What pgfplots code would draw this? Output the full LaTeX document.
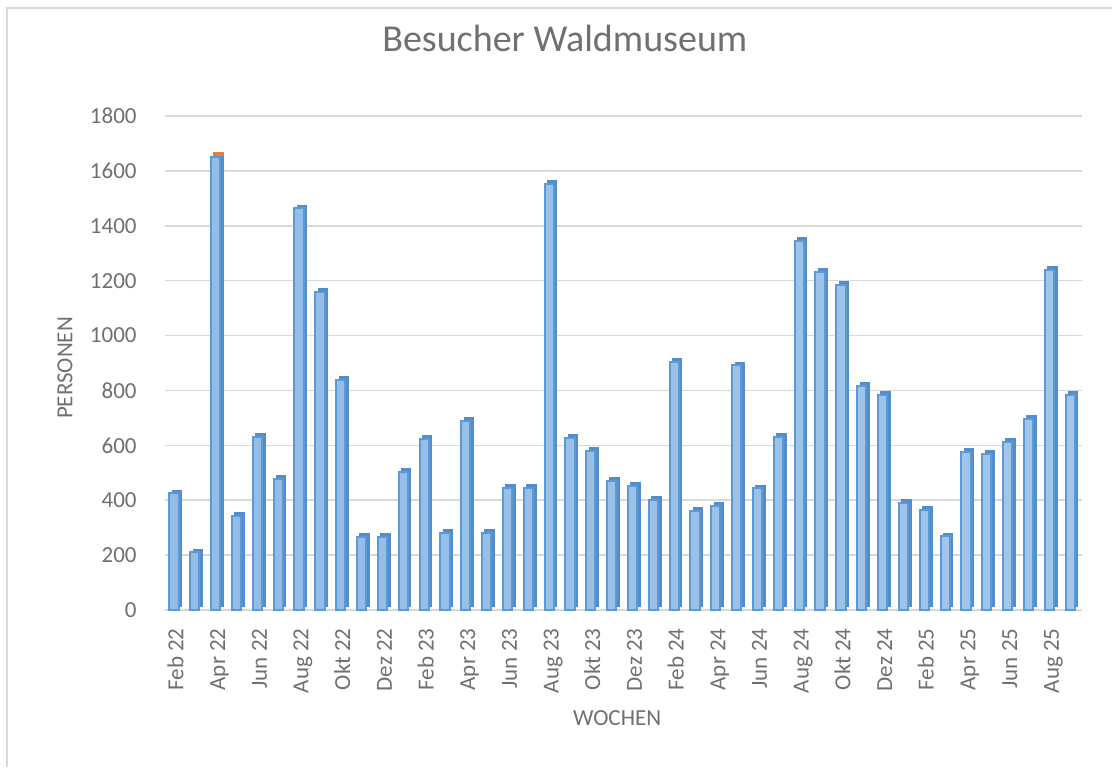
\documentclass[border=0pt]{standalone}
\usepackage{pgfplots}
\pgfplotsset{compat=1.18}
\usepackage{pgfplotstable}
\usepackage{fontspec}
\setmainfont{Carlito}
\definecolor{txt}{RGB}{112,112,112}
\definecolor{grid}{RGB}{217,217,217}
\definecolor{frontfill}{RGB}{163,198,234}
\definecolor{frontlight}{RGB}{184,212,240}
\definecolor{frontdark}{RGB}{146,187,230}
\definecolor{frontedge}{RGB}{91,155,213}
\definecolor{sidefill}{RGB}{84,141,203}
\definecolor{orangecap}{RGB}{237,125,49}
\pgfplotstableread{
x y
0 425
1 210
2 1652
3 342
4 630
5 478
6 1463
7 1159
8 837
9 267
10 267
11 502
12 623
13 280
14 689
15 282
16 446
17 446
18 1553
19 627
20 580
21 471
22 453
23 401
24 904
25 362
26 380
27 891
28 443
29 632
30 1346
31 1232
32 1185
33 818
34 783
35 391
36 364
37 268
38 576
39 570
40 613
41 696
42 1238
43 783
}\visits
\begin{document}
\begin{tikzpicture}
\useasboundingbox (0,0) rectangle (556pt,383.5pt);
\draw[color=grid, line width=0.8pt] (3.5pt,0) -- (3.5pt,379.5pt) -- (556pt,379.5pt);
\begin{axis}[
  at={(82.5pt,78.5pt)}, anchor=south west,
  scale only axis, width=458.5pt, height=247pt,
  xmin=-0.5, xmax=43.5, ymin=0, ymax=1800,
  ytick={0,200,...,1800},
  xtick={0,2,...,42},
  xticklabels={Feb 22,Apr 22,Jun 22,Aug 22,Okt 22,Dez 22,Feb 23,Apr 23,Jun 23,Aug 23,Okt 23,Dez 23,Feb 24,Apr 24,Jun 24,Aug 24,Okt 24,Dez 24,Feb 25,Apr 25,Jun 25,Aug 25},
  axis line style={draw=none},
  major tick length=0pt,
  ymajorgrids, grid style={color=grid, line width=0.8pt},
  /pgf/number format/assume math mode=true,
  /pgf/number format/1000 sep={},
  tick label style={font=\fontsize{11.5}{13}\selectfont, text=txt},
  xticklabel style={rotate=90, anchor=east, inner sep=0pt, text height=8pt, text depth=0pt},
  xticklabel shift=9pt,
  yticklabel style={anchor=east, inner sep=0pt},
  yticklabel shift=14pt,
  title={Besucher Waldmuseum},
  title style={at={(0.436,1.1336)}, anchor=center, font=\fontsize{19}{22}\selectfont, text=txt},
  xlabel={WOCHEN},
  xlabel style={at={(0.493,-0.2186)}, anchor=center, font=\fontsize{11.5}{13}\selectfont, text=txt},
  ylabel={PERSONEN},
  ylabel style={at={(-0.109,0.49)}, anchor=center, rotate=0, font=\fontsize{11.5}{13}\selectfont, text=txt},
  clip=false,
]
\addplot[ybar, bar width=4.6pt, bar shift=0.8pt, yshift=1.6pt, fill=sidefill, draw=sidefill, line width=0.6pt] table[x=x,y=y] {\visits};
\addplot[ybar, bar width=4.6pt, bar shift=-0.7pt, left color=frontdark, middle color=frontlight, right color=frontfill, draw=frontedge, line width=1pt] table[x=x,y=y] {\visits};
\addplot[only marks, mark=-, mark size=2.6pt, line width=1.8pt, color=orangecap, xshift=0.6pt, yshift=1.2pt] coordinates {(2,1652)};
\end{axis}
\end{tikzpicture}
\end{document}
